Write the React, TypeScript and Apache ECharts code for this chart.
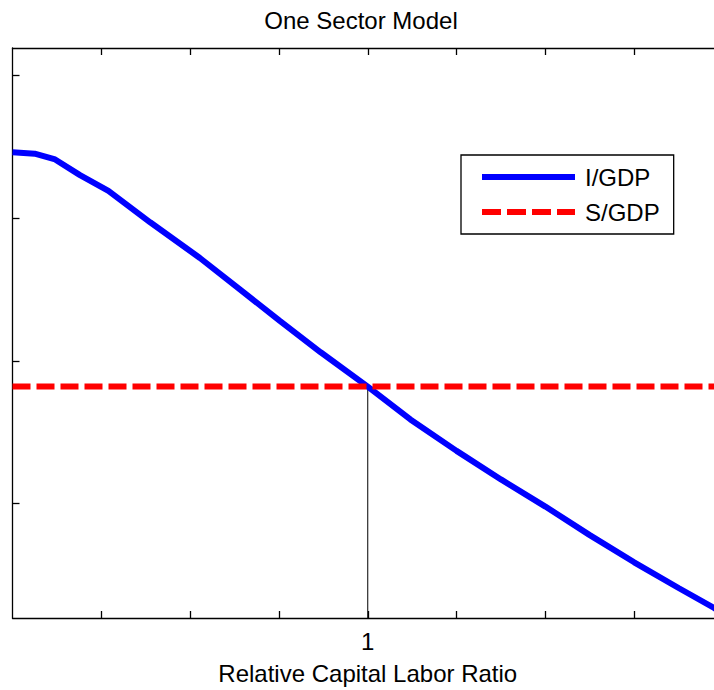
import React, { useEffect, useRef } from "react";
import * as echarts from "echarts";

const ratio = [0.6, 0.625, 0.648, 0.676, 0.708, 0.755, 0.811, 0.856, 0.901, 0.947, 1.0, 1.048, 1.1, 1.15, 1.2, 1.25, 1.3, 1.35, 1.39, 1.4];
const investGdp = [0.326, 0.325, 0.321, 0.31, 0.299, 0.277, 0.252, 0.23, 0.208, 0.186, 0.162, 0.139, 0.117, 0.097, 0.078, 0.058, 0.039, 0.021, 0.007, 0.003];
const savingGdp = 0.162;
const xTicks = [0.7, 0.8, 0.9, 1.0, 1.1, 1.2, 1.3];
const xLabels = [1];
const yTicks = [0.08, 0.18, 0.28, 0.38];

const FONT = "'Liberation Sans', Arial, Helvetica, sans-serif";

export default function App() {
  const ref = useRef<HTMLDivElement>(null);
  useEffect(() => {
    if (!ref.current) return;
    const chart = echarts.init(ref.current, undefined, { renderer: "svg" });
    const axisLine = { show: true, lineStyle: { color: "#000", width: 1.3 } };
    chart.setOption({
      animation: false,
      backgroundColor: "#fff",
      title: {
        text: "One Sector Model",
        left: 361,
        textAlign: "center",
        top: 8,
        padding: 0,
        textStyle: { fontFamily: FONT, fontSize: 24, fontWeight: "normal", color: "#000" },
      },
      grid: { left: 12.5, top: 48, width: 710.5, height: 570 },
      legend: {
        data: [
          { name: "I/GDP" },
          { name: "S/GDP", lineStyle: { type: [19, 6] } },
        ],
        orient: "vertical",
        left: 461,
        top: 155,
        padding: [10, 14, 10, 18],
        itemWidth: 93,
        itemHeight: 20,
        itemGap: 11,
        borderColor: "#000",
        borderWidth: 1.3,
        backgroundColor: "#fff",
        itemStyle: { opacity: 0 },
        lineStyle: { width: 6 },
        textStyle: { fontFamily: FONT, fontSize: 24, color: "#000", padding: [0, 0, 0, 5] },
      },
      xAxis: [
        {
          type: "value",
          position: "bottom",
          min: 0.6,
          max: 1.4,
          axisLine,
          splitLine: { show: false },
          axisTick: { show: true, inside: true, length: 7, customValues: xTicks, lineStyle: { color: "#000", width: 1.3 } },
          axisLabel: { show: true, customValues: xLabels, formatter: (v: number) => String(v), margin: 11, fontFamily: FONT, fontSize: 24, color: "#000" },
          name: "Relative Capital Labor Ratio",
          nameLocation: "middle",
          nameGap: 43,
          nameTextStyle: { fontFamily: FONT, fontSize: 24, color: "#000" },
        },
        {
          type: "value",
          position: "top",
          min: 0.6,
          max: 1.4,
          axisLine,
          splitLine: { show: false },
          axisTick: { show: true, inside: true, length: 7, customValues: xTicks, lineStyle: { color: "#000", width: 1.3 } },
          axisLabel: { show: false },
        },
      ],
      yAxis: {
        type: "value",
        min: 0,
        max: 0.399,
        axisLine,
        splitLine: { show: false },
        axisTick: { show: true, inside: true, length: 7, customValues: yTicks, lineStyle: { color: "#000", width: 1.3 } },
        axisLabel: { show: false },
      },
      series: [
        {
          name: "guide",
          type: "line",
          data: [[1, 0], [1, savingGdp]],
          symbol: "none",
          lineStyle: { color: "#000", width: 1 },
          z: 1,
        },
        {
          name: "I/GDP",
          type: "line",
          data: ratio.map((x, i) => [x, investGdp[i]]),
          symbol: "none",
          color: "#0000ff",
          lineStyle: { color: "#0000ff", width: 6 },
          z: 2,
        },
        {
          name: "S/GDP",
          type: "line",
          data: [[0.6, savingGdp], [1.4, savingGdp]],
          symbol: "none",
          color: "#ff0000",
          lineStyle: { color: "#ff0000", width: 6, type: [18, 6] },
          z: 3,
        },
      ],
    });
    return () => chart.dispose();
  }, []);
  return (
    <div style={{ position: "fixed", left: 0, top: 0, width: 714, height: 690, overflow: "hidden", background: "#fff" }}>
      <div ref={ref} style={{ width: 740, height: 690 }} />
    </div>
  );
}
